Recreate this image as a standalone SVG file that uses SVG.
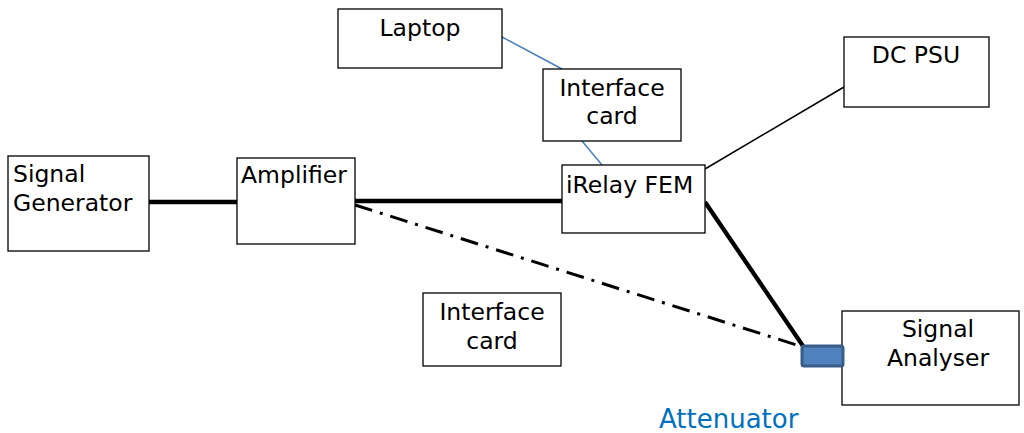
<svg xmlns="http://www.w3.org/2000/svg" width="1024" height="433" viewBox="0 0 1024 433">
<style>
.box{fill:#fff;stroke:#000;stroke-width:1.3}
text{font-family:"DejaVu Sans",Verdana,sans-serif;font-size:23.5px;fill:#000}
.c{text-anchor:middle}
.blue{stroke:#4a7ebb;stroke-width:1.5;fill:none}
.thin{stroke:#000;stroke-width:1.5;fill:none}
.thick{stroke:#000;stroke-width:4.3;fill:none}
</style>
<rect width="1024" height="433" fill="#fff"/>
<g id="connectors">
<line class="blue" x1="502" y1="37" x2="562" y2="69"/>
<line class="blue" x1="582" y1="141" x2="602" y2="165"/>
<line class="thick" x1="149" y1="202" x2="237" y2="202"/>
<line class="thick" x1="355" y1="201" x2="562" y2="201"/>
<line class="thin" x1="705" y1="169" x2="844" y2="87"/>
<line class="thick" x1="705" y1="202" x2="803" y2="346"/>
<line stroke="#000" stroke-width="3" stroke-dasharray="18,8,3,8" x1="355" y1="205" x2="803" y2="347"/>
</g>
<g id="laptop"><rect class="box" x="338" y="9" width="164" height="59"/><text class="c" x="420" y="36">Laptop</text></g>
<g id="interface-card-1"><rect class="box" x="543" y="69" width="138" height="72"/><text class="c" x="612" y="96">Interface</text><text class="c" x="612" y="124">card</text></g>
<g id="signal-generator"><rect class="box" x="8" y="156" width="141" height="95"/><text x="13" y="182">Signal</text><text x="13" y="211">Generator</text></g>
<g id="amplifier"><rect class="box" x="237" y="158" width="118" height="86"/><text x="241" y="183">Amplifier</text></g>
<g id="irelay-fem"><rect class="box" x="562" y="165" width="143" height="68"/><text x="566" y="193">iRelay FEM</text></g>
<g id="dc-psu"><rect class="box" x="844" y="37" width="145" height="70"/><text class="c" x="916" y="63">DC PSU</text></g>
<g id="interface-card-2"><rect class="box" x="423" y="293" width="138" height="73"/><text class="c" x="492" y="320">Interface</text><text class="c" x="492" y="349">card</text></g>
<g id="signal-analyser"><rect class="box" x="842" y="311" width="177" height="94"/><text class="c" x="938" y="337">Signal</text><text class="c" x="938" y="366">Analyser</text></g>
<g id="attenuator"><rect x="802" y="346" width="41" height="20" rx="2" fill="#4f81bd" stroke="#385d8a" stroke-width="3"/><text x="659" y="428" style="font-size:26px;fill:#0070c0">Attenuator</text></g>
</svg>
